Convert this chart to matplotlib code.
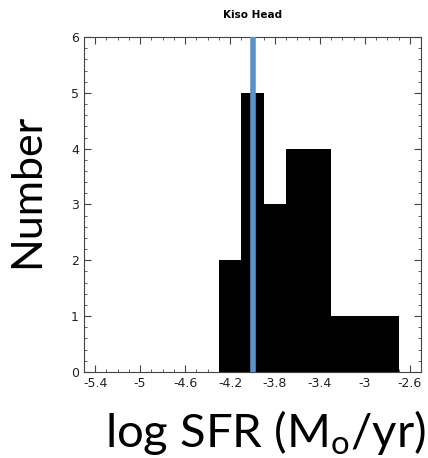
import matplotlib
matplotlib.use('Agg')
import matplotlib.pyplot as plt
import numpy as np
from matplotlib.ticker import MultipleLocator

# histogram of log SFR, bins of 0.2 dex
bin_edges = [-4.3, -4.1, -3.9, -3.7, -3.5, -3.3, -3.1, -2.9, -2.7]
counts = [2, 5, 3, 4, 4, 1, 1, 1]
median_sfr = -4.0
xtick_vals = [-5.4, -5.0, -4.6, -4.2, -3.8, -3.4, -3.0, -2.6]
xtick_labels = ['-5.4', '-5', '-4.6', '-4.2', '-3.8', '-3.4', '-3', '-2.6']

fig = plt.figure(figsize=(4.28, 4.58), dpi=100)
ax = fig.add_axes([0.196, 0.188, 0.788, 0.731])

ax.stairs(counts, bin_edges, fill=True, color='black')
ax.plot([median_sfr, median_sfr], [0, 6], color='#5b92cc', lw=4, clip_on=False,
        solid_capstyle='butt', zorder=5)

ax.set_xlim(-5.5, -2.5)
ax.set_ylim(0, 6)
ax.set_axisbelow(True)
ax.set_xticks(xtick_vals)
ax.set_xticklabels(xtick_labels)
ax.xaxis.set_minor_locator(MultipleLocator(0.1))
ax.yaxis.set_major_locator(MultipleLocator(1))
ax.yaxis.set_minor_locator(MultipleLocator(0.2))
ax.tick_params(which='both', direction='in', top=True, right=True,
               labelsize=9, color='#444444', labelcolor='#222222')
ax.tick_params(which='major', length=5)
ax.tick_params(which='minor', length=2.5)
for s in ax.spines.values():
    s.set_color('#444444')
    s.set_linewidth(0.8)

fig.text(0.59, 0.967, 'Kiso Head', ha='center', va='center', fontsize=7.5,
         fontweight='bold')
fig.text(0.064, 0.584, 'Number', rotation=90, ha='center', va='center',
         fontsize=31, family='Lato')
fig.text(0.621, 0.024, r'log SFR (M$_\mathregular{o}$/yr)', ha='center', va='baseline',
         fontsize=34, family='Lato')

fig.savefig('out.png', dpi=100)
